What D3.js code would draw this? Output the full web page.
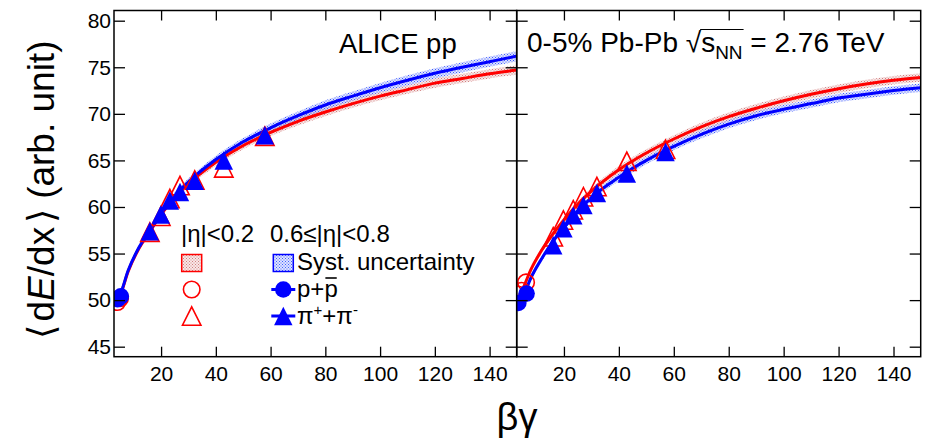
<!DOCTYPE html>
<html><head><meta charset="utf-8">
<script src="https://cdn.jsdelivr.net/npm/d3@7"></script>
<style>
html,body{margin:0;padding:0;background:#fff;}
svg text{font-family:"Liberation Sans",Arial,Helvetica,sans-serif;fill:#000;}
</style></head>
<body>
<svg id="chart" width="936" height="441"></svg>
<script>
// ---------------- data ----------------
const xTicks = [20, 40, 60, 80, 100, 120, 140];
const yTicks = [45, 50, 55, 60, 65, 70, 75, 80];

// curve sample points (beta*gamma)
const curveBG = [3.3, 5, 8, 12, 16, 20, 25, 30, 40, 50, 60, 70, 80, 90, 100, 110, 120, 130, 140, 150];
// pp
const ppBlueCurve = [50.0, 50.6, 53.2, 55.7, 57.5, 59.3, 61.2, 62.7, 65.1, 67.0, 68.5, 69.8, 70.95, 71.9, 72.8, 73.6, 74.35, 75.0, 75.6, 76.2];
const ppRedCurve  = [49.8, 50.5, 53.1, 55.6, 57.4, 59.2, 61.0, 62.5, 64.8, 66.6, 68.0, 69.2, 70.2, 71.1, 71.9, 72.6, 73.3, 73.8, 74.3, 74.7];
const ppBlueSyst  = [0.25, 0.25, 0.3, 0.3, 0.3, 0.3, 0.35, 0.35, 0.4, 0.4, 0.45, 0.45, 0.5, 0.5, 0.5, 0.55, 0.55, 0.55, 0.55, 0.55];
const ppRedSyst   = [0.25, 0.25, 0.3, 0.3, 0.3, 0.3, 0.35, 0.35, 0.4, 0.4, 0.4, 0.45, 0.45, 0.45, 0.45, 0.45, 0.5, 0.5, 0.5, 0.5];
// Pb-Pb
const pbBlueCurve = [49.5, 50.3, 52.4, 54.5, 56.3, 57.8, 59.5, 61.0, 63.2, 65.0, 66.5, 67.8, 68.9, 69.8, 70.5, 71.1, 71.7, 72.1, 72.5, 72.8];
const pbRedCurve  = [50.2, 51.2, 53.3, 55.4, 57.1, 58.6, 60.3, 61.7, 64.0, 65.8, 67.3, 68.6, 69.7, 70.6, 71.4, 72.1, 72.7, 73.2, 73.6, 73.9];
const pbBlueSyst  = [0.25, 0.25, 0.3, 0.3, 0.3, 0.3, 0.35, 0.35, 0.4, 0.4, 0.4, 0.45, 0.45, 0.45, 0.45, 0.45, 0.45, 0.45, 0.45, 0.45];
const pbRedSyst   = [0.25, 0.25, 0.3, 0.3, 0.3, 0.3, 0.35, 0.35, 0.4, 0.4, 0.4, 0.45, 0.45, 0.45, 0.45, 0.45, 0.45, 0.45, 0.45, 0.45];

// measured points: pions (triangles) and protons (circles)
const ppPionBG      = [15.9, 19.9, 23.2, 26.9, 32.3, 42.9, 57.9];
const ppBluePion    = [57.4, 59.2, 60.7, 61.6, 62.8, 65.0, 67.7];
const ppRedPion     = [57.3, 59.0, 60.9, 62.3, 62.9, 64.2, 67.6];
const ppBlueProtBG  = [4.2, 5.3];
const ppBlueProt    = [50.1, 50.4];
const ppRedProtBG   = [4.0, 5.0];
const ppRedProt     = [49.8, 50.2];

const pbPionBG      = [16.1, 19.8, 23.4, 27.1, 32.0, 42.9, 57.0];
const pbBluePion    = [55.9, 57.7, 59.1, 60.2, 61.5, 63.6, 65.9];
const pbRedPion     = [56.8, 58.6, 59.7, 61.1, 62.2, 64.9, 66.2];
const pbBlueProtBG  = [3.4, 6.4];
const pbBlueProt    = [49.7, 50.7];
const pbRedProtBG   = [3.3, 4.6, 6.2];
const pbRedProt     = [50.6, 51.0, 51.9];

// ---------------- layout ----------------
const FONT = '"Liberation Sans",Arial,Helvetica,sans-serif';
const yTop = 10.5, yBot = 356.7;
const panels = [
  {x0: 114, x1: 516.7, labels: true, blue: ppBlueCurve, red: ppRedCurve, bSyst: ppBlueSyst, rSyst: ppRedSyst,
   pionBG: ppPionBG, bPion: ppBluePion, rPion: ppRedPion,
   bProtBG: ppBlueProtBG, bProt: ppBlueProt, rProtBG: ppRedProtBG, rProt: ppRedProt},
  {x0: 516.7, x1: 920.7, labels: false, blue: pbBlueCurve, red: pbRedCurve, bSyst: pbBlueSyst, rSyst: pbRedSyst,
   pionBG: pbPionBG, bPion: pbBluePion, rPion: pbRedPion,
   bProtBG: pbBlueProtBG, bProt: pbBlueProt, rProtBG: pbRedProtBG, rProt: pbRedProt}
];
const BLUE = "#0000ff", RED = "#ff0000";

// ROOT-style triangle: width == height, centred on its bounding box
const rootTriangle = {
  draw(ctx, size) {
    const w = Math.sqrt(size) / 2;
    ctx.moveTo(0, -w); ctx.lineTo(w, w); ctx.lineTo(-w, w); ctx.closePath();
  }
};
const TRI = 340, CIRC = 215;

const svg = d3.select("#chart");
const defs = svg.append("defs");
function dotPattern(id, col, bg) {
  const p = defs.append("pattern").attr("id", id).attr("patternUnits", "userSpaceOnUse")
    .attr("width", 3).attr("height", 3);
  p.append("rect").attr("width", 3).attr("height", 3).attr("fill", bg);
  p.append("rect").attr("x", 0).attr("y", 0).attr("width", 1).attr("height", 1).attr("fill", col);
  p.append("rect").attr("x", 1.5).attr("y", 1.5).attr("width", 1).attr("height", 1).attr("fill", col);
}
dotPattern("patBlue", "#4060ff", "rgba(90,110,255,0.2)");
dotPattern("patRed", "#d08080", "rgba(220,130,130,0.2)");

const yScale = d3.scaleLinear().domain([43.925, 81.095]).range([yBot, yTop]);

panels.forEach((P, i) => {
  const x = d3.scaleLinear().domain([2.8, 149.9]).range([P.x0, P.x1]);
  const y = yScale;
  const g = svg.append("g");
  const clipId = "clip" + i;
  defs.append("clipPath").attr("id", clipId).append("rect")
    .attr("x", P.x0).attr("y", yTop).attr("width", P.x1 - P.x0).attr("height", yBot - yTop);
  const plot = g.append("g").attr("clip-path", `url(#${clipId})`);

  const area = (vals, syst) => d3.area().curve(d3.curveMonotoneX)
    .x((d, k) => x(curveBG[k])).y0((d, k) => y(vals[k] - syst[k])).y1((d, k) => y(vals[k] + syst[k]))(vals);
  const line = (vals) => d3.line().curve(d3.curveMonotoneX)
    .x((d, k) => x(curveBG[k])).y((d) => y(d))(vals);

  plot.append("path").attr("d", area(P.red, P.rSyst)).attr("fill", "url(#patRed)");
  plot.append("path").attr("d", area(P.blue, P.bSyst)).attr("fill", "url(#patBlue)");
  plot.append("path").attr("d", line(P.red)).attr("fill", "none").attr("stroke", RED).attr("stroke-width", 3);
  plot.append("path").attr("d", line(P.blue)).attr("fill", "none").attr("stroke", BLUE).attr("stroke-width", 3);

  const tri = d3.symbol().type(rootTriangle).size(TRI);
  const circ = d3.symbol().type(d3.symbolCircle).size(CIRC);
  plot.selectAll(".rp").data(P.rPion).join("path")
    .attr("d", tri).attr("transform", (d, k) => `translate(${x(P.pionBG[k])},${y(d)})`)
    .attr("fill", "none").attr("stroke", RED).attr("stroke-width", 1.6);
  plot.selectAll(".rc").data(P.rProt).join("path")
    .attr("d", circ).attr("transform", (d, k) => `translate(${x(P.rProtBG[k])},${y(d)})`)
    .attr("fill", "none").attr("stroke", RED).attr("stroke-width", 1.6);
  plot.selectAll(".bp").data(P.bPion).join("path")
    .attr("d", tri).attr("transform", (d, k) => `translate(${x(P.pionBG[k])},${y(d)})`)
    .attr("fill", BLUE);
  plot.selectAll(".bc").data(P.bProt).join("path")
    .attr("d", circ).attr("transform", (d, k) => `translate(${x(P.bProtBG[k])},${y(d)})`)
    .attr("fill", BLUE);

  const axB = g.append("g").attr("transform", `translate(0,${yBot})`)
    .call(d3.axisBottom(x).tickValues(xTicks).tickSize(-10).tickPadding(9));
  const axT = g.append("g").attr("transform", `translate(0,${yTop})`)
    .call(d3.axisTop(x).tickValues(xTicks).tickSize(-10).tickFormat(""));
  const axL = g.append("g").attr("transform", `translate(${P.x0},0)`)
    .call(d3.axisLeft(y).tickValues(yTicks).tickSize(-11).tickPadding(3).tickFormat(P.labels ? d3.format("d") : ""));
  const axR = g.append("g").attr("transform", `translate(${P.x1},0)`)
    .call(d3.axisRight(y).tickValues(yTicks).tickSize(-11).tickFormat(""));
  [axB, axT, axL, axR].forEach(a => {
    a.select(".domain").remove();
    a.selectAll("line").attr("stroke", "#000").attr("stroke-width", 1.3);
    a.selectAll("text").attr("font-family", FONT).attr("font-size", 21).attr("fill", "#000");
  });
  g.append("rect").attr("x", P.x0).attr("y", yTop).attr("width", P.x1 - P.x0).attr("height", yBot - yTop)
    .attr("fill", "none").attr("stroke", "#000").attr("stroke-width", 1.5);
});

// axis titles
const yt = svg.append("text").attr("transform", "translate(54,190) rotate(-90)")
  .attr("text-anchor", "middle").attr("font-size", 37);
yt.append("tspan").text("\u27E8");
yt.append("tspan").attr("dx", 4).text("d");
yt.append("tspan").attr("font-style", "italic").text("E");
yt.append("tspan").text("/dx");
yt.append("tspan").attr("dx", 4).text("\u27E9");
yt.append("tspan").attr("dx", 10).text("(arb. unit)");

svg.append("text").attr("x", 517).attr("y", 430).attr("text-anchor", "middle")
  .attr("font-size", 38).text("\u03B2\u03B3");

// panel labels
svg.append("text").attr("x", 339).attr("y", 53).attr("font-size", 27.5).text("ALICE pp");

const t2 = svg.append("text").attr("x", 527).attr("y", 52).attr("font-size", 28);
t2.append("tspan").text("0-5% Pb-Pb ");
const sqrtSpan = t2.append("tspan").text("\u221A");
const sSpan = t2.append("tspan").text("s");
const nnSpan = t2.append("tspan").attr("font-size", 19).attr("dy", 7).text("NN");
t2.append("tspan").attr("dy", -7).text(" = 2.76 TeV");
{
  const b = nnSpan.node().getEndPositionOfChar(1).x;
  const sq = sqrtSpan.node().getEndPositionOfChar(0).x;
  svg.append("line").attr("x1", sq - 1).attr("x2", b + 1).attr("y1", 29.5).attr("y2", 29.5)
    .attr("stroke", "#000").attr("stroke-width", 1.2);
}

// legend
const LF = 24;
svg.append("text").attr("x", 181).attr("y", 242).attr("font-size", LF).text("|\u03B7|<0.2");
svg.append("text").attr("x", 270).attr("y", 242).attr("font-size", LF).text("0.6\u2264|\u03B7|<0.8");
const lx1 = 191.7, lx2 = 283.3;
const ly = [263, 289.5, 316];
svg.append("rect").attr("x", lx1 - 10).attr("y", ly[0] - 8.5).attr("width", 20).attr("height", 17)
  .attr("fill", "url(#patRed)").attr("stroke", RED).attr("stroke-width", 1.5);
svg.append("rect").attr("x", lx2 - 10).attr("y", ly[0] - 8.5).attr("width", 20).attr("height", 17)
  .attr("fill", "url(#patBlue)").attr("stroke", BLUE).attr("stroke-width", 1.5);
svg.append("path").attr("d", d3.symbol().type(d3.symbolCircle).size(CIRC)())
  .attr("transform", `translate(${lx1},${ly[1]})`).attr("fill", "none").attr("stroke", RED).attr("stroke-width", 1.6);
svg.append("path").attr("d", d3.symbol().type(rootTriangle).size(TRI)())
  .attr("transform", `translate(${lx1},${ly[2]})`).attr("fill", "none").attr("stroke", RED).attr("stroke-width", 1.6);
[1, 2].forEach(k => svg.append("line").attr("x1", lx2 - 12).attr("x2", lx2 + 12)
  .attr("y1", ly[k]).attr("y2", ly[k]).attr("stroke", BLUE).attr("stroke-width", 3));
svg.append("path").attr("d", d3.symbol().type(d3.symbolCircle).size(CIRC)())
  .attr("transform", `translate(${lx2},${ly[1]})`).attr("fill", BLUE);
svg.append("path").attr("d", d3.symbol().type(rootTriangle).size(TRI)())
  .attr("transform", `translate(${lx2},${ly[2]})`).attr("fill", BLUE);
svg.append("text").attr("x", 297).attr("y", 270).attr("font-size", LF).text("Syst. uncertainty");
const pp = svg.append("text").attr("x", 297).attr("y", 297).attr("font-size", LF);
pp.append("tspan").text("p+");
const pbar = pp.append("tspan").text("p");
{
  const n = pbar.node();
  const a = n.getStartPositionOfChar(0).x, b = n.getEndPositionOfChar(0).x;
  svg.append("line").attr("x1", a + 1).attr("x2", b - 1).attr("y1", 278).attr("y2", 278)
    .attr("stroke", "#000").attr("stroke-width", 1.6);
}
const pi = svg.append("text").attr("x", 297).attr("y", 324).attr("font-size", LF);
pi.append("tspan").text("\u03C0");
pi.append("tspan").attr("font-size", 15).attr("dy", -9).text("+");
pi.append("tspan").attr("dy", 9).text("+\u03C0");
pi.append("tspan").attr("font-size", 15).attr("dy", -9).text("-");
</script>
</body></html>
